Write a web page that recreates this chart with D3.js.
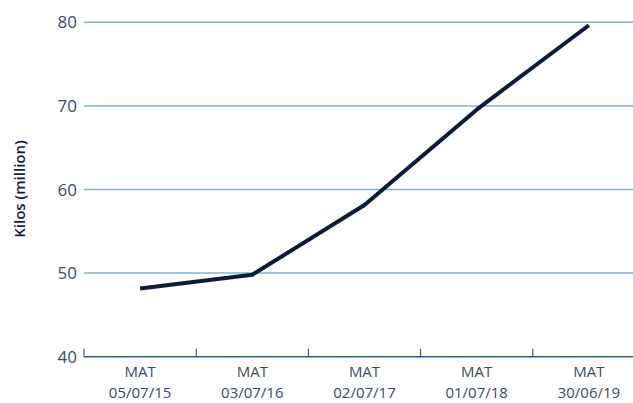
<!DOCTYPE html>
<html><head><meta charset="utf-8">
<script src="https://cdn.jsdelivr.net/npm/d3@7"></script>
<style>body{margin:0;background:#fff}svg{display:block}text{font-family:"Open Sans",Lato,sans-serif}</style>
</head><body><svg id="c" width="633" height="403"></svg>
<script>
const categories = ["05/07/15","03/07/16","02/07/17","01/07/18","30/06/19"];
const catPrefix = "MAT";
const values = [48.15, 49.8, 58.15, 69.55, 79.65];
const yTicks = [40, 50, 60, 70, 80];
const yLabel = "Kilos (million)";

const svg = d3.select("#c");
const x = d3.scaleBand().domain(categories).range([84, 645]);
const y = d3.scaleLinear().domain([40, 80]).range([356.7, 22.3]);
const tickCol = "#3d4a69";
const cx = d => x(d) + x.bandwidth() / 2;

svg.append("g").selectAll("line").data(yTicks.filter(d => d > 40)).join("line")
  .attr("x1", 84).attr("x2", 633).attr("y1", d => y(d)).attr("y2", d => y(d))
  .attr("stroke", "#78b4dc").attr("stroke-width", 1.5);

svg.append("g").selectAll("text").data(yTicks).join("text")
  .attr("x", 77).attr("y", d => y(d)).attr("dy", "0.36em").attr("text-anchor", "end")
  .attr("fill", tickCol).attr("font-size", 17).text(d => d);

const xAxis = svg.append("g").attr("transform", `translate(0,${y(40)})`);
xAxis.append("line").attr("x1", 84).attr("x2", 633).attr("stroke", "#1d5ea6").attr("stroke-width", 1.5);
xAxis.selectAll("line.t").data(categories).join("line").attr("class", "t")
  .attr("x1", d => x(d)).attr("x2", d => x(d)).attr("y1", 0).attr("y2", -8)
  .attr("stroke", "#2d3a5a").attr("stroke-width", 1);
xAxis.selectAll("text.m").data(categories).join("text").attr("class", "m")
  .attr("text-anchor", "middle").attr("fill", tickCol).attr("font-size", 15)
  .attr("x", cx).attr("y", 20.5).text(catPrefix);
xAxis.selectAll("text.d").data(categories).join("text").attr("class", "d")
  .attr("text-anchor", "middle").attr("fill", tickCol).attr("font-size", 15)
  .attr("x", cx).attr("y", 41.2).text(d => d);

svg.append("path").datum(values)
  .attr("fill", "none").attr("stroke", "#0b1a3f").attr("stroke-width", 4).attr("stroke-linejoin", "round")
  .attr("d", d3.line().x((d, i) => cx(categories[i])).y(d => y(d)));

svg.append("text").attr("transform", "translate(25,189) rotate(-90)")
  .attr("text-anchor", "middle").attr("fill", "#0f1f44").attr("font-size", 15).attr("font-weight", 600)
  .text(yLabel);
</script></body></html>
